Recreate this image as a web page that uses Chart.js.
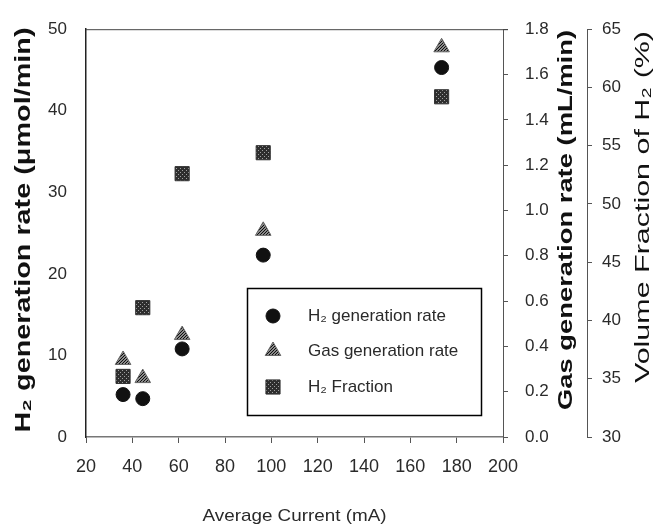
<!DOCTYPE html>
<html>
<head>
<meta charset="utf-8" />
<title>H2 generation</title>
<script src="https://cdn.jsdelivr.net/npm/chart.js@4.4.1/dist/chart.umd.min.js"></script>
<style>
  html, body { margin: 0; padding: 0; background: #fff; }
  #wrap { width: 659px; height: 527px; }
</style>
</head>
<body>
<div id="wrap"><canvas id="grafico" width="659" height="527"></canvas></div>
<script>
// average current (mA)
var currentMA = [36, 44.5, 61.5, 96.5, 173.5];
// H2 generation rate (umol/min) - left axis
var h2Rate = [5.2, 4.7, 10.8, 22.3, 45.3];
// gas generation rate (mL/min) - first right axis
var gasRate = [0.34, 0.26, 0.45, 0.91, 1.72];
// volume fraction of H2 (%) - second right axis
var h2Fraction = [35.2, 41.1, 52.6, 54.4, 59.2];

var seriesNames = ['H\u2082 generation rate', 'Gas generation rate', 'H\u2082 Fraction'];

function pts(ys) {
    return currentMA.map(function (x, i) { return { x: x, y: ys[i] }; });
}

// hatched fill for triangles, dotted fill for squares
function makePattern(kind) {
    var c = document.createElement('canvas');
    var g;
    if (kind === 'hatch') {
        c.width = 3; c.height = 3;
        g = c.getContext('2d');
        g.fillStyle = '#8a8a8a';
        g.fillRect(0, 0, 3, 3);
        g.fillStyle = '#0e0e0e';
        g.fillRect(2, 0, 1, 1);
        g.fillRect(1, 1, 1, 1);
        g.fillRect(0, 2, 1, 1);
    } else {
        c.width = 4; c.height = 4;
        g = c.getContext('2d');
        g.fillStyle = '#2e2e2e';
        g.fillRect(0, 0, 4, 4);
        g.fillStyle = '#a0a0a0';
        g.fillRect(0, 0, 1, 1);
        g.fillRect(2, 2, 1, 1);
    }
    return g.createPattern(c, 'repeat');
}

var hatch = makePattern('hatch');
var dots = makePattern('dots');

var fontFam = '"Liberation Sans", Arial, sans-serif';
var txt = '#2a2a2a';

// text stretched along its own direction to a given length
function stretchedText(ctx, text, cx, cy, rot, font, len, color) {
    ctx.save();
    ctx.font = font;
    ctx.fillStyle = color;
    ctx.textAlign = 'center';
    ctx.textBaseline = 'middle';
    var w = ctx.measureText(text).width;
    ctx.translate(cx, cy);
    ctx.rotate(rot);
    ctx.scale(len / w, 1);
    ctx.fillText(text, 0, 0);
    ctx.restore();
}

// frame on top of the plot, axis titles, legend box
var extras = {
    id: 'extras',
    afterDraw: function (chart) {
        var ctx = chart.ctx;
        var a = chart.chartArea;
        var s = chart.scales;
        ctx.save();
        ctx.strokeStyle = '#444';
        ctx.lineWidth = 1;
        ctx.beginPath();
        ctx.moveTo(a.left, a.top + 0.5);
        ctx.lineTo(a.right + 5, a.top + 0.5);
        ctx.stroke();
        ctx.restore();

        var up = -Math.PI / 2;
        stretchedText(ctx, 'H\u2082 generation rate (\u03bcmol/min)', s.y.left + 24, 230, up,
            'bold 22px ' + fontFam, 405, '#111');
        stretchedText(ctx, 'Gas generation rate (mL/min)', s.yGas.left + 63, 220, up,
            'bold 21px ' + fontFam, 380, '#111');
        stretchedText(ctx, 'Volume Fraction of H\u2082 (%)', s.yFrac.left + 56, 207, up,
            '21px ' + fontFam, 352, '#111');
        stretchedText(ctx, 'Average Current (mA)', (a.left + a.right) / 2, 516, 0,
            '17px ' + fontFam, 184, txt);

        // legend
        var bx = 247, by = 288, bw = 234, bh = 127;
        ctx.save();
        ctx.strokeStyle = '#000';
        ctx.lineWidth = 1.5;
        ctx.strokeRect(bx + 0.5, by + 0.5, bw, bh);
        ctx.font = '17px ' + fontFam;
        ctx.fillStyle = txt;
        ctx.textBaseline = 'middle';
        var rows = [316, 351, 387];
        chart.data.datasets.forEach(function (ds, i) {
            ctx.save();
            ctx.fillStyle = ds.backgroundColor;
            ctx.strokeStyle = ds.borderColor;
            ctx.lineWidth = 1;
            Chart.helpers.drawPoint(ctx, {
                pointStyle: ds.pointStyle, radius: ds.pointRadius, rotation: 0, borderWidth: 1
            }, 273, rows[i]);
            ctx.restore();
            ctx.fillStyle = txt;
            ctx.fillText(ds.label, 308, rows[i]);
        });
        ctx.restore();
    }
};

var config = {
    type: 'scatter',
    data: {
        datasets: [{
            label: seriesNames[0],
            data: pts(h2Rate),
            yAxisID: 'y',
            pointStyle: 'circle',
            pointRadius: 7,
            backgroundColor: '#111',
            borderColor: '#111'
        }, {
            label: seriesNames[1],
            data: pts(gasRate),
            yAxisID: 'yGas',
            pointStyle: 'triangle',
            pointRadius: 9,
            backgroundColor: hatch,
            borderColor: '#666'
        }, {
            label: seriesNames[2],
            data: pts(h2Fraction),
            yAxisID: 'yFrac',
            pointStyle: 'rect',
            pointRadius: 10,
            backgroundColor: dots,
            borderColor: '#333'
        }]
    },
    options: {
        responsive: false,
        animation: false,
        layout: { padding: { top: 24, left: 0, right: 0, bottom: 0 } },
        plugins: {
            legend: { display: false },
            tooltip: { enabled: false }
        },
        scales: {
            x: {
                type: 'linear',
                position: 'bottom',
                min: 20, max: 200,
                ticks: { stepSize: 20, color: txt, padding: 13, font: { family: fontFam, size: 18 } },
                grid: { drawOnChartArea: false, tickLength: 6, color: '#555' },
                border: { color: '#777', width: 1.5 },
                afterFit: function (sc) { sc.height = 90; }
            },
            y: {
                position: 'left',
                min: 0, max: 50,
                ticks: { stepSize: 10, color: txt, padding: 19, font: { family: fontFam, size: 17 } },
                grid: { drawOnChartArea: false, drawTicks: false },
                border: { color: '#222', width: 1.5 },
                afterFit: function (sc) { sc.width = 86; }
            },
            yGas: {
                position: 'right',
                min: 0, max: 1.8,
                ticks: {
                    stepSize: 0.2, color: txt, padding: 17, font: { family: fontFam, size: 17 },
                    callback: function (v) { return v.toFixed(1); }
                },
                grid: { drawOnChartArea: false, tickLength: 5, color: '#555' },
                border: { color: '#555', width: 1 },
                afterFit: function (sc) { sc.width = 84; }
            },
            yFrac: {
                position: 'right',
                min: 30, max: 65,
                ticks: { stepSize: 5, color: txt, padding: 10, font: { family: fontFam, size: 17 } },
                grid: { drawOnChartArea: false, tickLength: 5, color: '#555' },
                border: { color: '#555', width: 1 },
                afterFit: function (sc) { sc.width = 72; }
            }
        }
    },
    plugins: [extras]
};

var ctx = document.getElementById('grafico').getContext('2d');
var grafico = new Chart(ctx, config);
</script>
</body>
</html>
